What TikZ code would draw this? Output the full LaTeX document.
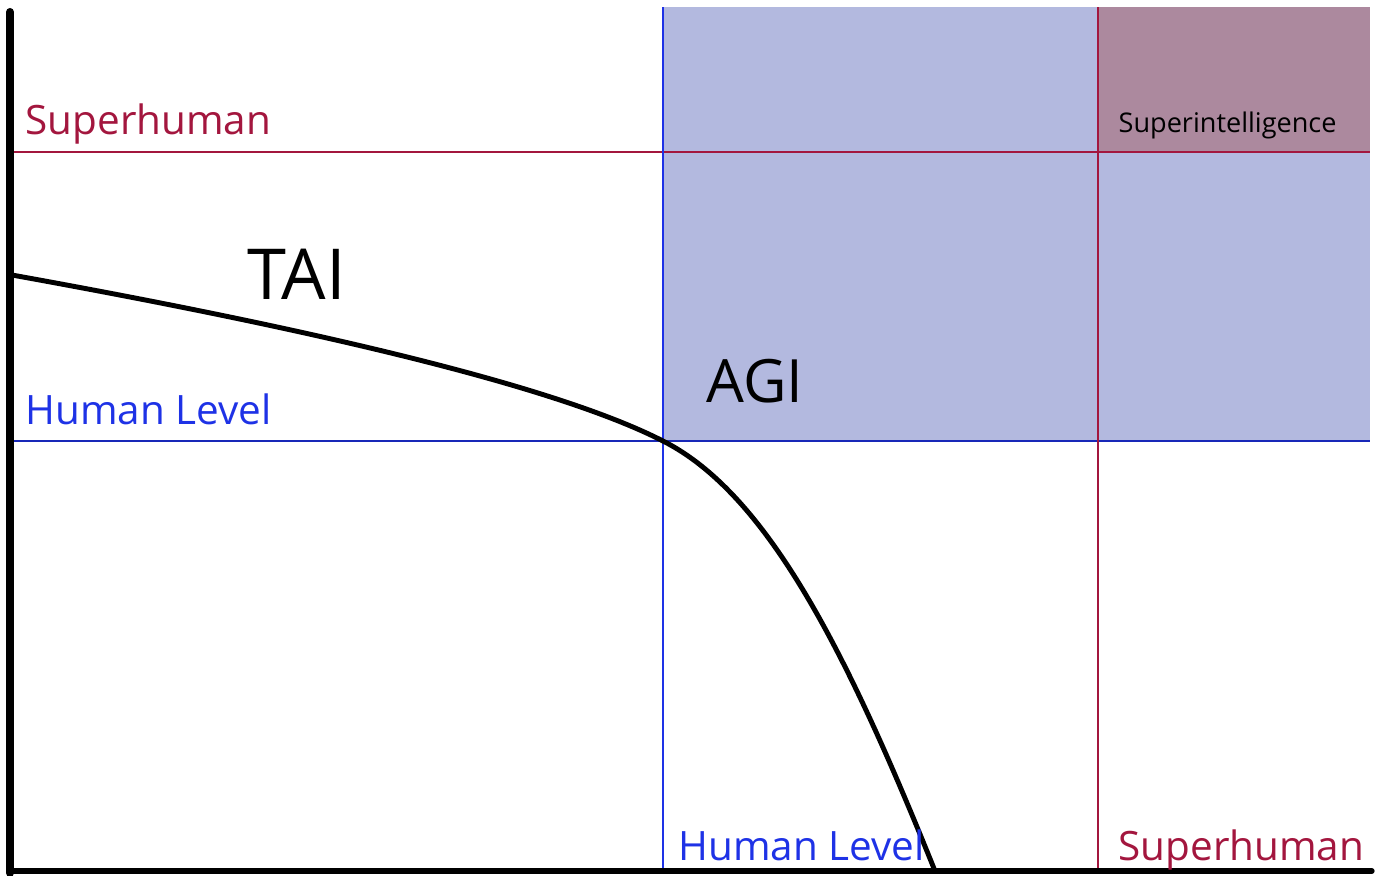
\documentclass[tikz,border=0pt]{standalone}
\usepackage{fontspec}
\setmainfont{Open Sans}
\begin{document}
\begin{tikzpicture}[x=0.01cm, y=-0.01cm, line cap=round, line join=round]
  \definecolor{agiblue}{RGB}{179,185,223}
  \definecolor{supermauve}{RGB}{172,137,158}
  \definecolor{levelred}{RGB}{163,22,62}
  \definecolor{levelblue}{RGB}{30,50,230}
  \tikzset{lbl/.style={anchor=base west, inner sep=0pt, font=\fontsize{11.5}{14}\selectfont}}
  \useasboundingbox (0,0) rectangle (1375,875);
  \coordinate (hx) at (663,441);
  \coordinate (sx) at (1098,152);
  \fill[agiblue] (663,7) rectangle (1370,441);
  \fill[supermauve] (1098,7) rectangle (1370,152);
  \draw[levelred, line width=0.75pt, line cap=butt] (14,152) -- (1370,152);
  \draw[levelblue!80!black, line width=0.75pt, line cap=butt] (14,441) -- (1370,441);
  \draw[levelblue, line width=0.75pt, line cap=butt] (663,7) -- (663,871);
  \draw[levelred, line width=0.75pt, line cap=butt] (1098,7) -- (1098,871);
  \draw[line width=1.5pt] (10,871) -- (1372,871);
  \draw[line width=2.3pt] (10,12) -- (10,873);
  \draw[line width=1.4pt] (12,275) .. controls (250,318) and (540,378) .. (hx)
    .. controls (770,495) and (850,660) .. (935,871);
  \node[lbl, levelred] (shy) at (25,134) {Superhuman};
  \node[lbl, levelblue] (hly) at (25,424) {Human Level};
  \node[lbl, levelblue] (hlx) at (678,860) {Human Level};
  \node[lbl, levelred] (shx) at (1118,860) {Superhuman};
  \node[anchor=base west, inner sep=0pt, font=\fontsize{20}{24}\selectfont] (tai) at (247,299) {TAI};
  \node[anchor=base west, inner sep=0pt, font=\fontsize{17}{20}\selectfont] (agi) at (706,402) {AGI};
  \node[anchor=base west, inner sep=0pt, font=\fontsize{7.7}{9}\selectfont] (si) at (1118,132) {Superintelligence};
\end{tikzpicture}
\end{document}
